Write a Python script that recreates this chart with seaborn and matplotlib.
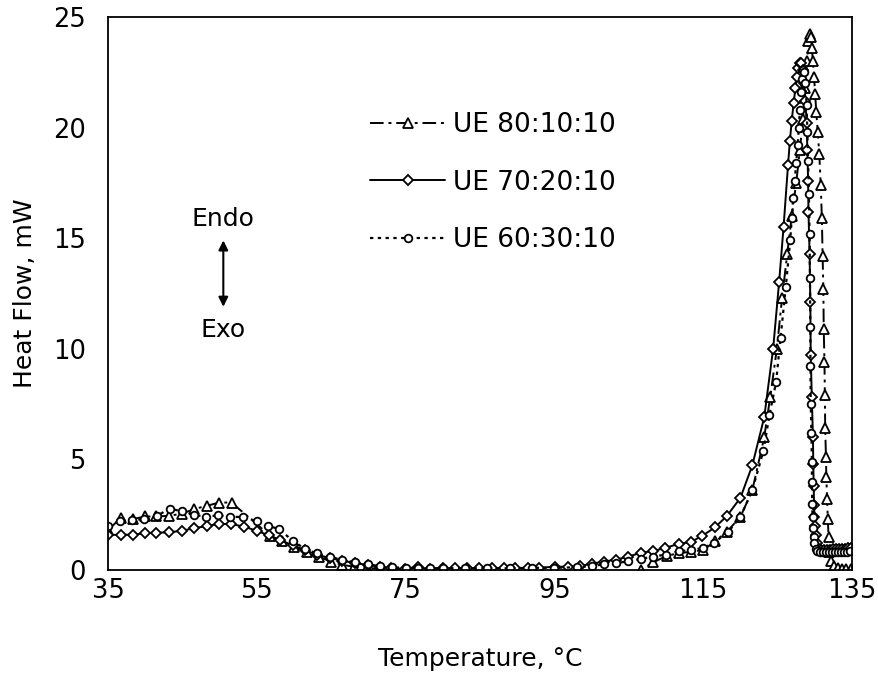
import numpy as np
import pandas as pd
import matplotlib
matplotlib.use("Agg")
import matplotlib.pyplot as plt
import seaborn as sns

# ---------------- data ----------------
labels = ["UE 80:10:10", "UE 70:20:10", "UE 60:30:10"]

t_a = [35.0, 36.7, 38.3, 40.0, 41.5, 43.2, 45.0, 46.6, 48.3, 49.9, 51.6, 56.8, 58.4, 60.0,
       61.7, 63.3, 65.0, 66.5, 68.1, 69.8, 71.5, 73.1, 74.8, 76.5, 78.2, 80.0, 83.0, 86.0,
       89.0, 92.0, 95.0, 98.0, 101.0, 103.5, 105.2, 106.7, 108.3, 110.1, 111.7, 113.3, 115.0,
       116.6, 118.2, 120.0, 121.6, 123.2, 124.0, 124.9, 125.6, 126.3, 126.9, 127.5, 128.0,
       128.4, 128.7, 128.95, 129.15, 129.3, 129.45, 129.6, 129.75, 129.9, 130.05, 130.2,
       130.4, 130.6, 130.8, 130.95, 131.05, 131.15, 131.2, 131.3, 131.35, 131.4, 131.5,
       131.55, 131.65, 131.75, 131.85, 131.95, 132.2, 132.6, 133.1, 133.6, 134.2, 134.8]
hf_a = [1.8, 2.35, 2.3, 2.42, 2.42, 2.45, 2.55, 2.76, 2.9, 3.05, 3.05, 1.55, 1.3, 1.05,
        0.8, 0.6, 0.38, 0.23, 0.15, 0.1, 0.05, 0.02, 0.0, -0.3, -0.3, -0.3, -0.3, -0.3,
        -0.3, -0.3, -0.3, -0.3, -0.3, -0.3, -0.3, 0.02, 0.35, 0.64, 0.76, 0.82, 0.9,
        1.3, 1.74, 2.4, 3.6, 6.0, 7.8, 10.0, 12.3, 14.3, 16.0, 17.5, 19.0,
        20.4, 21.8, 23.0, 23.9, 24.25, 24.1, 23.6, 23.0, 22.3, 21.5, 20.7,
        19.8, 18.8, 17.4, 15.9, 14.2, 12.7, 10.9, 9.4, 7.9, 6.4, 5.1,
        4.2, 3.2, 2.3, 1.5, 0.8, 0.4, 0.2, 0.1, 0.05, 0.05, 0.05]

t_b = [35.0, 36.7, 38.3, 40.0, 41.5, 43.2, 45.0, 46.6, 48.3, 49.9, 51.5, 53.3, 55.0, 56.6,
       58.1, 59.8, 61.5, 63.1, 64.8, 66.5, 68.2, 69.9, 71.6, 73.1, 74.9, 76.6, 78.3, 80.0,
       81.6, 83.2, 84.9, 86.6, 88.2, 89.7, 91.4, 92.9, 95.1, 96.8, 98.4, 100.0, 101.6, 103.3,
       104.9, 106.6, 108.2, 109.9, 111.7, 113.3, 114.9, 116.6, 118.2, 120.0, 121.6, 123.2,
       124.4, 125.2, 125.8, 126.4, 126.65, 126.9, 127.15, 127.4, 127.6, 127.8, 128.0, 128.2,
       128.4, 128.6, 128.75, 128.9, 129.0, 129.1, 129.15, 129.3, 129.4, 129.45, 129.6, 129.75,
       129.8, 129.85, 129.9, 129.95, 130.0, 130.1, 130.25, 130.5, 130.9, 131.3, 131.7, 132.1,
       132.5, 132.9, 133.3, 133.7, 134.1, 134.5, 134.9]
hf_b = [1.59, 1.59, 1.6, 1.66, 1.69, 1.7, 1.78, 1.89, 1.99, 2.08, 2.08, 1.96, 1.77, 1.57,
        1.36, 1.12, 0.9, 0.68, 0.55, 0.42, 0.31, 0.23, 0.14, 0.08, 0.05, 0.12, 0.05, 0.08,
        0.08, 0.08, 0.08, 0.08, 0.08, 0.08, 0.08, 0.1, 0.15, 0.15, 0.18, 0.28, 0.38, 0.47,
        0.6, 0.78, 0.85, 1.0, 1.18, 1.26, 1.55, 1.93, 2.45, 3.26, 4.73, 6.9,
        10.0, 13.0, 15.5, 18.3, 19.4, 20.3, 21.1, 21.8, 22.3, 22.7, 22.9, 22.9,
        22.6, 22.0, 21.2, 20.2, 19.0, 17.6, 16.2, 14.3, 12.1, 9.7, 7.8, 6.0,
        4.8, 3.8, 2.95, 2.4, 1.97, 1.6, 1.2, 0.95, 0.9, 0.9, 0.92, 0.92,
        0.93, 0.95, 0.95, 0.96, 0.97, 0.98, 1.0]

t_c = [35.0, 36.6, 38.2, 39.9, 41.6, 43.3, 44.9, 46.5, 48.2, 49.8, 51.4, 53.2, 55.0, 56.5,
       58.0, 59.9, 61.5, 63.1, 64.8, 66.5, 68.2, 69.9, 71.6, 73.2, 75.0, 76.6, 78.3, 80.0,
       83.0, 86.0, 89.0, 92.0, 95.0, 98.0, 100.0, 101.6, 103.3, 104.9, 106.6, 108.2, 110.0,
       111.7, 113.3, 115.0, 116.5, 118.4, 120.0, 121.6, 123.1, 123.9, 124.8, 125.4, 126.1,
       126.7, 126.9, 127.1, 127.3, 127.5, 127.7, 127.85, 128.0, 128.15, 128.3, 128.45, 128.6,
       128.75, 128.9, 129.0, 129.1, 129.2, 129.3, 129.35, 129.4, 129.42, 129.45, 129.55,
       129.6, 129.62, 129.65, 129.7, 129.75, 129.85, 129.95, 130.1, 130.3, 130.7, 131.1,
       131.5, 131.9, 132.3, 132.7, 133.1, 133.5, 133.9, 134.3, 134.7]
hf_c = [2.0, 2.2, 2.27, 2.3, 2.45, 2.78, 2.65, 2.5, 2.4, 2.48, 2.4, 2.4, 2.2, 2.0,
        1.85, 1.3, 0.95, 0.75, 0.6, 0.45, 0.35, 0.25, 0.18, 0.12, 0.1, 0.1, 0.08, 0.08,
        0.08, 0.08, 0.08, 0.1, 0.1, 0.12, 0.18, 0.25, 0.3, 0.4, 0.5, 0.6, 0.7,
        0.85, 0.9, 1.0, 1.24, 1.74, 2.4, 3.6, 5.4, 7.0, 8.5, 10.5, 12.8,
        14.9, 15.9, 16.8, 17.6, 18.4, 19.2, 20.0, 20.8, 21.6, 22.2, 22.6, 22.5,
        22.0, 21.0, 19.8, 18.5, 17.0, 15.2, 13.2, 11.0, 9.2, 7.5, 6.2,
        4.9, 4.0, 3.0, 2.4, 1.9, 1.5, 1.2, 0.95, 0.85, 0.8, 0.8,
        0.8, 0.8, 0.8, 0.82, 0.82, 0.82, 0.83, 0.83, 0.84]

x_major = [35, 55, 75, 95, 115, 135]
x_minor = [45, 65, 85, 105, 125]
y_ticks = [0, 5, 10, 15, 20, 25]
x_label = "Temperature, °C"
y_label = "Heat Flow, mW"

# ---------------- style ----------------
sns.set_theme(style="white")
plt.rcParams["font.family"] = ["DejaVu Sans"]
plt.rcParams["text.color"] = "black"

fig = plt.figure(figsize=(8.79, 6.88), dpi=100)
ax = fig.add_axes([108 / 879, 1 - 570 / 688, (852 - 108) / 879, (570 - 17) / 688])

styles = [
    dict(marker="^", markersize=6.5, linestyle=(0, (7, 2.5, 1.5, 2.5)), linewidth=1.4),
    dict(marker="D", markersize=5.0, linestyle="-", linewidth=1.4),
    dict(marker="o", markersize=5.5, linestyle=(0, (1.5, 2.0)), linewidth=1.6),
]
series = [(t_a, hf_a), (t_b, hf_b), (t_c, hf_c)]

for (tx, hy), lab, st in zip(series, labels, styles):
    df = pd.DataFrame({"T": tx, "HF": hy})
    sns.lineplot(data=df, x="T", y="HF", ax=ax, sort=False, estimator=None,
                 color="black", markerfacecolor="white", markeredgecolor="black",
                 markeredgewidth=1.3, label=lab, **st)

ax.set_xlim(35, 135)
ax.set_ylim(0, 25)
ax.set_xticks(x_major)
ax.set_xticks(x_minor, minor=True)
ax.set_yticks(y_ticks)
ax.set_xticklabels([str(v) for v in x_major])
ax.set_yticklabels([str(v) for v in y_ticks])

ax.tick_params(axis="both", which="both", direction="in", color="black",
               labelsize=18.5, labelcolor="black", width=1.3)
ax.tick_params(axis="x", which="both", length=5, pad=6)
ax.tick_params(axis="y", which="both", length=8, pad=16)

for s in ax.spines.values():
    s.set_color("black")
    s.set_linewidth(1.3)
    s.set_visible(True)

ax.set_xlabel(x_label, fontsize=18, color="black", labelpad=31)
ax.set_ylabel(y_label, fontsize=18, color="black", labelpad=11)

leg = ax.legend(loc="upper left", bbox_to_anchor=(370 / 879, 1 - 112 / 688),
                bbox_transform=fig.transFigure, frameon=False, fontsize=19,
                handlelength=2.85, handletextpad=0.3, labelspacing=1.2,
                borderpad=0, borderaxespad=0, numpoints=1)
for t in leg.get_texts():
    t.set_color("black")

# Endo / Exo annotation
ax.annotate("", xy=(50.5, 11.9), xytext=(50.5, 14.9),
            arrowprops=dict(arrowstyle="<|-|>", color="black", lw=1.5,
                            mutation_scale=14, shrinkA=0, shrinkB=0))
ax.text(50.5, 15.55, "Endo", ha="center", va="baseline", fontsize=18, color="black")
ax.text(50.5, 10.55, "Exo", ha="center", va="baseline", fontsize=18, color="black")

fig.savefig("out.png", dpi=100)
